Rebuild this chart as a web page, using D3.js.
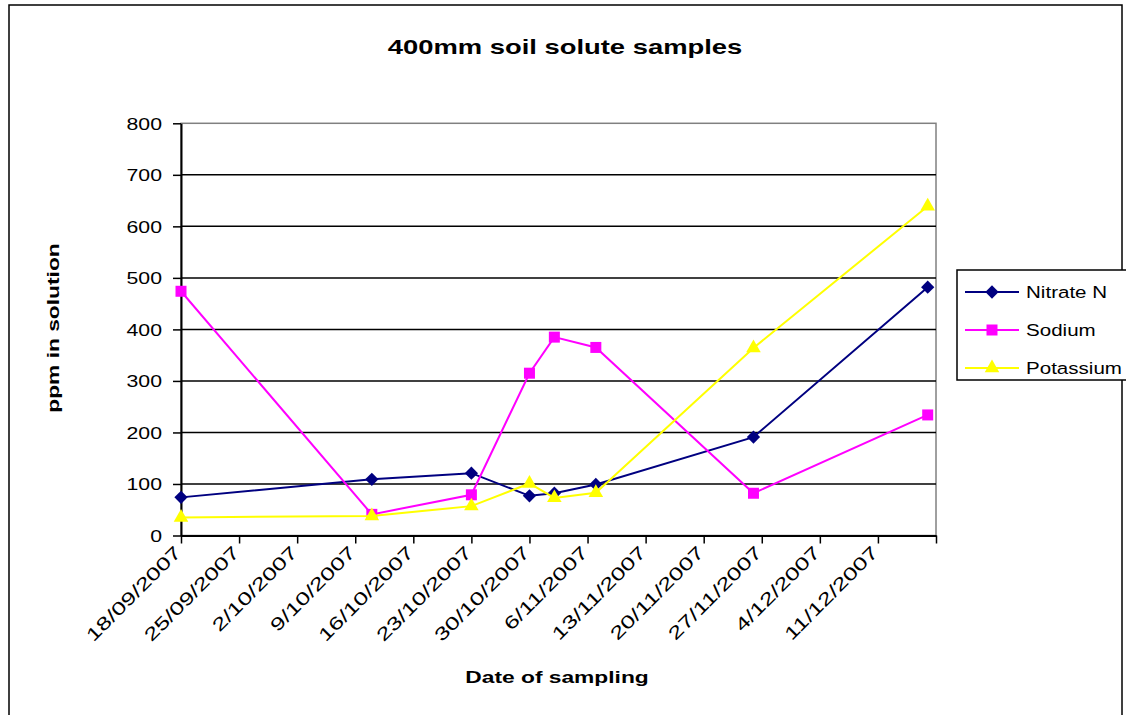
<!DOCTYPE html>
<html>
<head>
<meta charset="utf-8">
<script src="https://cdn.jsdelivr.net/npm/d3@7"></script>
<style>
  html, body { margin: 0; padding: 0; background: #fff; }
  svg { display: block; font-family: "Liberation Sans", Arial, sans-serif; }
</style>
</head>
<body>
<svg id="chart" width="1126" height="715"></svg>
<script>
// Sampling dates (d/mm/yyyy)
const sampleDates = ["18/09/2007", "11/10/2007", "23/10/2007", "30/10/2007",
                     "2/11/2007", "7/11/2007", "26/11/2007", "17/12/2007"];
// Concentrations, ppm in solution
const nitrateN  = [74, 109, 121, 77, 82, 99, 191, 482];
const sodium    = [474, 41, 79, 315, 385, 365, 82, 234];
const potassium = [35, 38, 57, 101, 73, 83, 364, 639];

const seriesNames = ["Nitrate N", "Sodium", "Potassium"];

// Weekly axis ticks; the final tick closes the axis without a label
const xTickDates  = ["18/09/2007", "25/09/2007", "2/10/2007", "9/10/2007", "16/10/2007",
                     "23/10/2007", "30/10/2007", "6/11/2007", "13/11/2007", "20/11/2007",
                     "27/11/2007", "4/12/2007", "11/12/2007", "18/12/2007"];
const xTickLabels = ["18/09/2007", "25/09/2007", "2/10/2007", "9/10/2007", "16/10/2007",
                     "23/10/2007", "30/10/2007", "6/11/2007", "13/11/2007", "20/11/2007",
                     "27/11/2007", "4/12/2007", "11/12/2007"];
const yTicks = [0, 100, 200, 300, 400, 500, 600, 700, 800];

const parse = d3.utcParse("%d/%m/%Y");
const dates = sampleDates.map(parse);
const tickDates = xTickDates.map(parse);

const FONT = "Liberation Sans, Arial, sans-serif";
const svg = d3.select("#chart");

// Outer chart frame
svg.append("rect")
  .attr("x", 9).attr("y", 5).attr("width", 1113).attr("height", 730)
  .attr("fill", "#fff").attr("stroke", "#000").attr("stroke-width", 1.5);

const plot = { left: 181, right: 936, top: 123.3, bottom: 535.5 };

const x = d3.scaleUtc()
  .domain([tickDates[0], tickDates[tickDates.length - 1]])
  .range([plot.left, plot.right]);
const y = d3.scaleLinear().domain([0, 800]).range([plot.bottom, plot.top]);

// Plot area border (grey)
svg.append("rect")
  .attr("x", plot.left).attr("y", plot.top)
  .attr("width", plot.right - plot.left).attr("height", plot.bottom - plot.top)
  .attr("fill", "none").attr("stroke", "#808080").attr("stroke-width", 1.5);

// Horizontal gridlines
svg.append("g")
  .selectAll("line")
  .data(yTicks.filter(v => v > 0 && v < 800))
  .join("line")
  .attr("x1", plot.left).attr("x2", plot.right)
  .attr("y1", d => y(d)).attr("y2", d => y(d))
  .attr("stroke", "#000").attr("stroke-width", 1.5);

// Y axis
const yAxis = svg.append("g")
  .attr("transform", `translate(${plot.left},0)`)
  .call(d3.axisLeft(y).tickValues(yTicks).tickSize(8).tickSizeOuter(0));
yAxis.select(".domain").attr("stroke", "#000").attr("stroke-width", 2);
yAxis.selectAll(".tick line").attr("stroke", "#000").attr("stroke-width", 1.5);
yAxis.selectAll(".tick text")
  .attr("font-size", 17).attr("fill", "#000").attr("font-family", FONT)
  .attr("text-anchor", "end")
  .attr("x", 0).attr("dy", null).attr("y", 0)
  .attr("transform", "translate(-19,6) scale(1.25,1)");

// X axis
const xAxis = svg.append("g")
  .attr("transform", `translate(0,${plot.bottom})`)
  .call(d3.axisBottom(x).tickValues(tickDates).tickSize(8).tickSizeOuter(0)
    .tickFormat((d, i) => i < xTickLabels.length ? xTickLabels[i] : ""));
xAxis.select(".domain").attr("stroke", "#000").attr("stroke-width", 2);
xAxis.selectAll(".tick line").attr("stroke", "#000").attr("stroke-width", 1.5);
xAxis.selectAll(".tick text")
  .attr("font-size", 18).attr("fill", "#000").attr("font-family", FONT)
  .attr("text-anchor", "end")
  .attr("dy", null)
  .attr("y", 0)
  .attr("transform", "translate(1,18) rotate(-45) scale(1.4,1)");

// Series
const diamond = d3.symbol().type(d3.symbolSquare).size(88);
const series = [
  { name: seriesNames[0], values: nitrateN,  color: "#000080", path: diamond, rot: 45 },
  { name: seriesNames[1], values: sodium,    color: "#FF00FF", path: d3.symbol().type(d3.symbolSquare).size(121), rot: 0 },
  { name: seriesNames[2], values: potassium, color: "#FFFF00", path: d3.symbol().type(d3.symbolTriangle).size(92), rot: 0 }
];

const line = d3.line().x(d => x(d.date)).y(d => y(d.value));

series.forEach(s => {
  const pts = dates.map((d, i) => ({ date: d, value: s.values[i] }));
  svg.append("path")
    .datum(pts)
    .attr("d", line)
    .attr("fill", "none")
    .attr("stroke", s.color)
    .attr("stroke-width", 2);
  svg.append("g")
    .selectAll("path")
    .data(pts)
    .join("path")
    .attr("transform", d => `translate(${x(d.date)},${y(d.value)}) rotate(${s.rot})`)
    .attr("d", s.path())
    .attr("fill", s.color);
});

// Title and axis titles
svg.append("text")
  .attr("transform", "translate(565,54) scale(1.37,1)")
  .attr("text-anchor", "middle")
  .attr("font-size", 20).attr("font-weight", "bold")
  .text("400mm soil solute samples");

svg.append("text")
  .attr("transform", "translate(557,683) scale(1.34,1)")
  .attr("text-anchor", "middle")
  .attr("font-size", 17).attr("font-weight", "bold")
  .text("Date of sampling");

svg.append("text")
  .attr("transform", "translate(58.5,328) rotate(-90) scale(1.34,1)")
  .attr("text-anchor", "middle")
  .attr("font-size", 17).attr("font-weight", "bold")
  .text("ppm in solution");

// Legend
const legend = svg.append("g");
legend.append("rect")
  .attr("x", 957).attr("y", 270).attr("width", 190).attr("height", 110)
  .attr("fill", "#fff").attr("stroke", "#000").attr("stroke-width", 1.5);

const legendY = [292, 330, 368];
series.forEach((s, i) => {
  const g = legend.append("g").attr("transform", `translate(0,${legendY[i]})`);
  g.append("line")
    .attr("x1", 965).attr("x2", 1019).attr("y1", 0).attr("y2", 0)
    .attr("stroke", s.color).attr("stroke-width", 2);
  g.append("path")
    .attr("transform", `translate(992,0) rotate(${s.rot})`)
    .attr("d", s.path())
    .attr("fill", s.color);
  g.append("text")
    .attr("transform", "translate(1026,6) scale(1.21,1)")
    .attr("font-size", 17)
    .text(s.name);
});
</script>
</body>
</html>
